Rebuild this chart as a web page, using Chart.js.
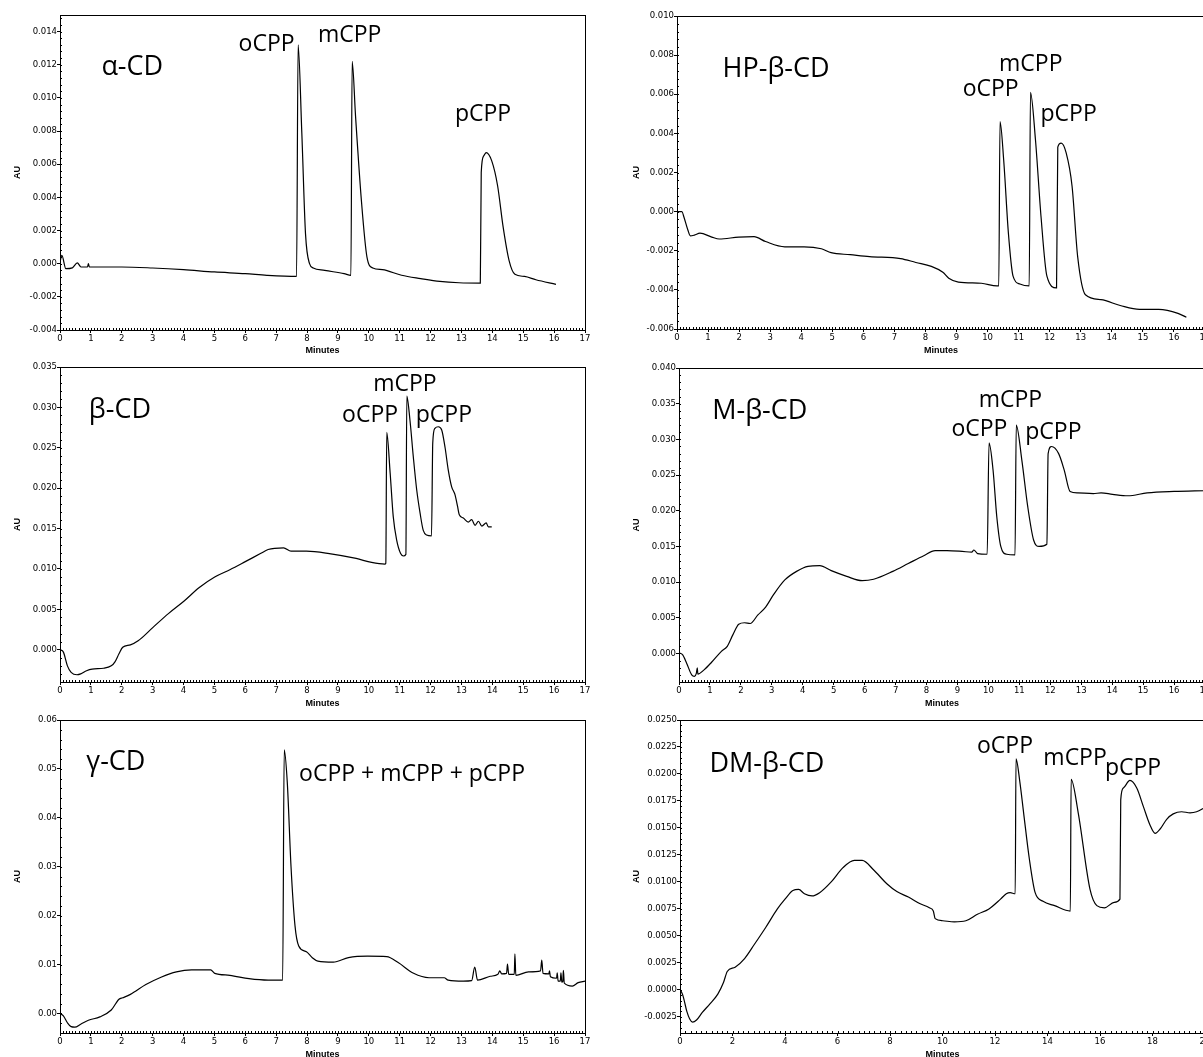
<!DOCTYPE html>
<html lang="en">
<head>
  <meta charset="utf-8">
  <title>CPP isomers with cyclodextrins</title>
  <style>
    html, body { margin: 0; padding: 0; background: #fff; overflow: hidden; width: 1203px; height: 1057px; }
    .panel { position: absolute; }
  </style>
</head>
<body>
  <canvas id="alpha" class="panel" width="600" height="356" style="left:0;top:0"></canvas>
  <canvas id="hpbeta" class="panel" width="620" height="356" style="left:600px;top:0"></canvas>
  <canvas id="beta" class="panel" width="600" height="357" style="left:0;top:352px"></canvas>
  <canvas id="mbeta" class="panel" width="620" height="357" style="left:600px;top:352px"></canvas>
  <canvas id="gamma" class="panel" width="600" height="355" style="left:0;top:705px"></canvas>
  <canvas id="dmbeta" class="panel" width="620" height="355" style="left:600px;top:705px"></canvas>
  <script src="https://cdn.jsdelivr.net/npm/chart.js"></script>
  <script>
    // retention time (minutes) and absorbance (AU)
    var alphaTime = [0, 0.06, 0.19, 0.4, 0.56, 0.68, 0.89, 0.92, 0.95, 2.0, 3.0, 4.0, 5.0, 6.0, 6.7, 7.66, 7.71, 7.83, 7.95, 8.08, 8.2, 8.57, 9.2, 9.42, 9.46, 9.57, 9.76, 9.94, 10.13, 10.44, 11.06, 11.68, 12.3, 12.92, 13.61, 13.64, 13.72, 13.8, 13.98, 14.17, 14.35, 14.54, 14.73, 15.04, 15.41, 16.06];
    var alphaAbs = [0.0001, 0.0005, -0.0003, -0.00025, 0.00005, -0.0002, -0.0002, 0.0, -0.0002, -0.0002, -0.00026, -0.00036, -0.0005, -0.0006, -0.0007, -0.00077, 0.0132, 0.0079, 0.0018, 0.0, -0.00026, -0.0004, -0.0006, -0.0007, 0.0122, 0.0089, 0.0038, 0.0004, -0.00026, -0.00036, -0.0007, -0.0009, -0.00107, -0.00115, -0.00117, 0.0055, 0.0065, 0.0067, 0.0062, 0.0047, 0.0022, 0.0002, -0.00064, -0.00077, -0.00097, -0.00125];

    var hpBetaTime = [0, 0.16, 0.22, 0.35, 0.43, 0.56, 0.74, 1.12, 1.36, 1.99, 2.48, 2.85, 3.47, 4.09, 4.65, 4.96, 5.58, 6.2, 7.2, 7.69, 8.19, 8.56, 8.75, 9.06, 9.8, 10.3, 10.36, 10.4, 10.52, 10.67, 10.82, 11.04, 11.34, 11.38, 11.54, 11.72, 11.91, 12.22, 12.26, 12.37, 12.53, 12.72, 12.9, 13.15, 13.65, 14.27, 14.89, 15.51, 16.13, 16.4];
    var hpBetaAbs = [0.0, 0.0, -0.00026, -0.00094, -0.00124, -0.0012, -0.0011, -0.0013, -0.0014, -0.0013, -0.00128, -0.00153, -0.0018, -0.0018, -0.0019, -0.0021, -0.0022, -0.0023, -0.0024, -0.0026, -0.0028, -0.0031, -0.0034, -0.0036, -0.00366, -0.0038, -0.0038, 0.0046, 0.0026, -0.0011, -0.0033, -0.0037, -0.0038, 0.0061, 0.0037, -0.00025, -0.0033, -0.0039, 0.0033, 0.0035, 0.003, 0.0013, -0.0023, -0.00425, -0.0045, -0.0048, -0.005, -0.005, -0.0052, -0.0054];

    var betaTime = [0, 0.11, 0.24, 0.36, 0.55, 0.67, 0.86, 1.04, 1.41, 1.66, 1.78, 1.91, 2.03, 2.28, 2.53, 3.02, 3.52, 4.01, 4.51, 5.01, 5.5, 6.0, 6.49, 6.74, 7.24, 7.48, 7.98, 8.72, 9.59, 10.09, 10.52, 10.55, 10.58, 10.69, 10.79, 10.9, 11.03, 11.12, 11.2, 11.23, 11.33, 11.44, 11.55, 11.66, 11.76, 11.87, 12.03, 12.07, 12.14, 12.25, 12.36, 12.47, 12.57, 12.68, 12.79, 12.87, 12.93, 13.06, 13.22, 13.33, 13.44, 13.55, 13.66, 13.8, 13.87, 13.98];
    var betaAbs = [0, -0.0003, -0.002, -0.0028, -0.0031, -0.003, -0.0026, -0.0024, -0.0023, -0.002, -0.0015, -0.0005, 0.0003, 0.0006, 0.0011, 0.0028, 0.0045, 0.006, 0.0077, 0.009, 0.0099, 0.0109, 0.0119, 0.0124, 0.0126, 0.0122, 0.0122, 0.0119, 0.0113, 0.0108, 0.0106, 0.0107, 0.0269, 0.0219, 0.0165, 0.0136, 0.0119, 0.0116, 0.0118, 0.0314, 0.0285, 0.0239, 0.0198, 0.0169, 0.0148, 0.0142, 0.0141, 0.0256, 0.0274, 0.0276, 0.0272, 0.025, 0.0223, 0.0202, 0.0192, 0.0178, 0.0167, 0.0163, 0.0158, 0.0161, 0.0154, 0.0159, 0.0153, 0.0157, 0.0152, 0.0152];

    var mBetaTime = [0, 0.12, 0.25, 0.41, 0.5, 0.56, 0.59, 0.61, 0.81, 1.06, 1.37, 1.56, 1.74, 1.93, 2.12, 2.3, 2.55, 2.8, 3.05, 3.42, 3.8, 4.17, 4.55, 4.92, 5.42, 5.92, 6.29, 6.91, 7.41, 7.91, 8.28, 8.66, 9.15, 9.46, 9.53, 9.65, 9.96, 10.02, 10.15, 10.27, 10.4, 10.59, 10.86, 10.9, 11.08, 11.27, 11.46, 11.64, 11.89, 11.93, 12.04, 12.27, 12.45, 12.64, 12.89, 13.39, 13.64, 14.01, 14.51, 15.13, 16.0, 17.0];
    var mBetaAbs = [0.0001, -0.0002, -0.0014, -0.003, -0.0032, -0.0028, -0.002, -0.0029, -0.0023, -0.0012, 0.0003, 0.001, 0.0026, 0.0041, 0.0043, 0.0042, 0.0054, 0.0065, 0.0082, 0.0103, 0.0115, 0.0122, 0.0123, 0.0116, 0.0108, 0.0102, 0.0104, 0.0115, 0.0126, 0.0137, 0.0144, 0.0144, 0.0143, 0.0142, 0.0145, 0.014, 0.0139, 0.0295, 0.0257, 0.0192, 0.015, 0.0139, 0.0138, 0.032, 0.0271, 0.0206, 0.0159, 0.015, 0.0153, 0.028, 0.029, 0.028, 0.0257, 0.0227, 0.0225, 0.0224, 0.0225, 0.0223, 0.0221, 0.0225, 0.0227, 0.0228];

    var gammaTime = [0, 0.11, 0.24, 0.36, 0.48, 0.67, 0.92, 1.29, 1.66, 1.91, 2.03, 2.28, 2.78, 3.27, 3.77, 4.26, 4.88, 5.01, 5.5, 6.12, 6.74, 7.21, 7.26, 7.36, 7.48, 7.61, 7.73, 7.98, 8.17, 8.35, 8.85, 9.34, 9.96, 10.58, 10.95, 11.45, 11.95, 12.44, 12.57, 13.06, 13.33, 13.43, 13.52, 13.93, 14.18, 14.24, 14.3, 14.46, 14.49, 14.53, 14.71, 14.73, 14.76, 15.17, 15.56, 15.6, 15.64, 15.83, 15.85, 15.88, 16.08, 16.1, 16.13, 16.2, 16.22, 16.25, 16.28, 16.3, 16.33, 16.59, 16.78, 17.0];
    var gammaAbs = [0, -0.0005, -0.0019, -0.0027, -0.0028, -0.0022, -0.0014, -0.0007, 0.0007, 0.0029, 0.0032, 0.0039, 0.0059, 0.0074, 0.0085, 0.0089, 0.0089, 0.0082, 0.0078, 0.0071, 0.0068, 0.0068, 0.0539, 0.0472, 0.0301, 0.0179, 0.0138, 0.0126, 0.0114, 0.0107, 0.0105, 0.0114, 0.0117, 0.0116, 0.0104, 0.0082, 0.0073, 0.0073, 0.0068, 0.0066, 0.0067, 0.0095, 0.0068, 0.0076, 0.008, 0.0087, 0.0081, 0.0082, 0.0101, 0.008, 0.008, 0.0122, 0.0078, 0.0085, 0.0087, 0.0109, 0.0082, 0.0081, 0.0087, 0.0075, 0.0072, 0.0083, 0.0066, 0.0066, 0.0083, 0.0064, 0.0065, 0.0088, 0.0062, 0.0056, 0.0063, 0.0066];

    var dmBetaTime = [0, 0.12, 0.26, 0.37, 0.48, 0.63, 0.85, 1.14, 1.44, 1.66, 1.8, 2.1, 2.46, 2.83, 3.27, 3.71, 4.0, 4.3, 4.52, 4.74, 5.03, 5.32, 5.76, 6.2, 6.64, 6.94, 7.38, 7.89, 8.26, 8.7, 9.13, 9.5, 9.65, 9.72, 10.01, 10.45, 10.89, 11.33, 11.77, 12.21, 12.43, 12.58, 12.77, 12.8, 12.95, 13.09, 13.31, 13.53, 13.83, 14.27, 14.87, 14.9, 15.17, 15.62, 15.88, 16.17, 16.54, 16.76, 16.79, 16.89, 17.14, 17.4, 17.65, 17.9, 18.1, 18.29, 18.54, 18.79, 19.11, 19.43, 19.68, 20.0];
    var dmBetaAbs = [0.0001, -0.0006, -0.002, -0.0027, -0.003, -0.0028, -0.0021, -0.0013, -0.0004, 0.0007, 0.0017, 0.0021, 0.0029, 0.0042, 0.0058, 0.0075, 0.0084, 0.0092, 0.0093, 0.0089, 0.0087, 0.009, 0.01, 0.0113, 0.012, 0.012, 0.0111, 0.0098, 0.0091, 0.0086, 0.008, 0.0076, 0.0073, 0.0066, 0.0064, 0.0063, 0.0064, 0.007, 0.0075, 0.0084, 0.0089, 0.009, 0.0089, 0.0214, 0.0192, 0.0164, 0.0121, 0.009, 0.0082, 0.0078, 0.0073, 0.0195, 0.0164, 0.0093, 0.0078, 0.0076, 0.0081, 0.0084, 0.0176, 0.0187, 0.0194, 0.0187, 0.017, 0.0153, 0.0145, 0.0149, 0.0158, 0.0163, 0.0165, 0.0164, 0.0165, 0.0169];

    var tickFont = { family: 'DejaVu Sans', size: 8.5 };
    var titleFont = { family: 'Liberation Sans', size: 9, weight: 'bold' };
    var noteFont = "'Open Sans', 'Noto Sans', sans-serif";

    // outer box plus the small minor ticks on the inside of both axes
    var framePlugin = {
      id: 'frame',
      afterDraw: function (chart) {
        var ctx = chart.ctx, area = chart.chartArea;
        var xs = chart.scales.x, ys = chart.scales.y;
        ctx.save();
        ctx.strokeStyle = '#000';
        ctx.lineWidth = 1;
        ctx.strokeRect(Math.round(area.left) + 0.5, Math.round(area.top) + 0.5,
          Math.round(area.right - area.left), Math.round(area.bottom - area.top));
        ctx.beginPath();
        var xMinor = xs.options.ticks.stepSize / 10;
        for (var i = 0; xs.min + i * xMinor <= xs.max + 1e-9; i++) {
          var px = Math.round(xs.getPixelForValue(xs.min + i * xMinor)) + 0.5;
          ctx.moveTo(px, area.bottom);
          ctx.lineTo(px, area.bottom - 2);
        }
        var yMinor = ys.options.ticks.stepSize / 5;
        var first = Math.ceil(ys.min / yMinor - 1e-6);
        for (var j = first; j * yMinor <= ys.max + 1e-9; j++) {
          var py = Math.round(ys.getPixelForValue(j * yMinor)) + 0.5;
          ctx.moveTo(area.left, py);
          ctx.lineTo(area.left + 2, py);
        }
        ctx.stroke();
        ctx.restore();
      }
    };

    function notesPlugin(notes) {
      return {
        id: 'notes',
        afterDatasetsDraw: function (chart) {
          var ctx = chart.ctx;
          ctx.save();
          ctx.fillStyle = '#000';
          ctx.textAlign = 'center';
          ctx.textBaseline = 'alphabetic';
          notes.forEach(function (n) {
            ctx.font = n.size + 'px ' + noteFont;
            ctx.fillText(n.text, chart.scales.x.getPixelForValue(n.x), chart.scales.y.getPixelForValue(n.y));
          });
          ctx.restore();
        }
      };
    }

    function drawPanel(id, times, values, o) {
      var points = times.map(function (t, i) { return { x: t, y: values[i] }; });
      new Chart(document.getElementById(id), {
        type: 'line',
        data: {
          datasets: [{
            data: points,
            borderColor: '#000',
            borderWidth: 1.2,
            pointRadius: 0,
            cubicInterpolationMode: 'monotone',
            fill: false
          }]
        },
        options: {
          responsive: false,
          animation: false,
          layout: { padding: { left: 0, right: 15, top: o.padTop, bottom: 0 } },
          plugins: { legend: { display: false }, tooltip: { enabled: false } },
          scales: {
            x: {
              type: 'linear',
              min: 0,
              max: o.xMax,
              afterFit: function (s) { s.height = o.xHeight; },
              ticks: { stepSize: o.xStep, autoSkip: false, maxRotation: 0, includeBounds: false, padding: 1, color: '#000', font: tickFont },
              grid: { drawOnChartArea: false, drawTicks: true, tickLength: 3, color: '#000' },
              border: { display: true, color: '#000', width: 1 },
              title: { display: true, text: 'Minutes', color: '#000', font: titleFont, padding: { top: 0, bottom: 0 } }
            },
            y: {
              min: o.yMin,
              max: o.yMax,
              afterFit: function (s) { s.width = o.yWidth; },
              ticks: {
                stepSize: o.yStep,
                includeBounds: false,
                padding: 0,
                color: '#000',
                font: tickFont,
                callback: function (v) {
                  if (Math.abs(v) < 1e-9) v = 0;
                  return v.toFixed(o.yDigits);
                }
              },
              grid: { drawOnChartArea: false, drawTicks: true, tickLength: 3, color: '#000' },
              border: { display: true, color: '#000', width: 1 },
              title: { display: true, text: 'AU', color: '#000', font: titleFont, padding: { top: o.auPad, bottom: 0 } }
            }
          }
        },
        plugins: [framePlugin, notesPlugin(o.notes)]
      });
    }

    drawPanel('alpha', alphaTime, alphaAbs, {
      xMax: 17, xStep: 1, yMin: -0.004, yMax: 0.015, yStep: 0.002, yDigits: 3,
      yWidth: 60, xHeight: 26, padTop: 15, auPad: 12,
      notes: [
        { text: 'α-CD', x: 2.34, y: 0.0114, size: 27 },
        { text: 'oCPP', x: 6.69, y: 0.0128, size: 23 },
        { text: 'mCPP', x: 9.38, y: 0.0134, size: 23 },
        { text: 'pCPP', x: 13.7, y: 0.0086, size: 23 }
      ]
    });

    drawPanel('hpbeta', hpBetaTime, hpBetaAbs, {
      xMax: 17, xStep: 1, yMin: -0.006, yMax: 0.010, yStep: 0.002, yDigits: 3,
      yWidth: 77, xHeight: 27, padTop: 16, auPad: 31,
      notes: [
        { text: 'HP-β-CD', x: 3.19, y: 0.0069, size: 27 },
        { text: 'mCPP', x: 11.39, y: 0.0072, size: 23 },
        { text: 'oCPP', x: 10.1, y: 0.0059, size: 23 },
        { text: 'pCPP', x: 12.61, y: 0.00465, size: 23 }
      ]
    });

    drawPanel('beta', betaTime, betaAbs, {
      xMax: 17, xStep: 1, yMin: -0.004, yMax: 0.035, yStep: 0.005, yDigits: 3,
      yWidth: 60, xHeight: 27, padTop: 15, auPad: 12,
      notes: [
        { text: 'β-CD', x: 1.94, y: 0.0287, size: 27 },
        { text: 'mCPP', x: 11.17, y: 0.032, size: 23 },
        { text: 'oCPP', x: 10.04, y: 0.0282, size: 23 },
        { text: 'pCPP', x: 12.43, y: 0.0282, size: 23 }
      ]
    });

    drawPanel('mbeta', mBetaTime, mBetaAbs, {
      xMax: 17, xStep: 1, yMin: -0.004, yMax: 0.040, yStep: 0.005, yDigits: 3,
      yWidth: 79, xHeight: 27, padTop: 16, auPad: 31,
      notes: [
        { text: 'M-β-CD', x: 2.61, y: 0.0328, size: 27 },
        { text: 'mCPP', x: 10.71, y: 0.0346, size: 23 },
        { text: 'oCPP', x: 9.71, y: 0.0305, size: 23 },
        { text: 'pCPP', x: 12.1, y: 0.0301, size: 23 }
      ]
    });

    drawPanel('gamma', gammaTime, gammaAbs, {
      xMax: 17, xStep: 1, yMin: -0.004, yMax: 0.06, yStep: 0.01, yDigits: 2,
      yWidth: 60, xHeight: 27, padTop: 15, auPad: 12,
      notes: [
        { text: 'γ-CD', x: 1.81, y: 0.0497, size: 27 },
        { text: 'oCPP + mCPP + pCPP', x: 11.4, y: 0.0476, size: 23 }
      ]
    });

    drawPanel('dmbeta', dmBetaTime, dmBetaAbs, {
      xMax: 20, xStep: 2, yMin: -0.004, yMax: 0.025, yStep: 0.0025, yDigits: 4,
      yWidth: 80, xHeight: 27, padTop: 15, auPad: 31,
      notes: [
        { text: 'DM-β-CD', x: 3.31, y: 0.0202, size: 27 },
        { text: 'oCPP', x: 12.38, y: 0.0219, size: 23 },
        { text: 'mCPP', x: 15.05, y: 0.0208, size: 23 },
        { text: 'pCPP', x: 17.26, y: 0.0199, size: 23 }
      ]
    });
  </script>
</body>
</html>
